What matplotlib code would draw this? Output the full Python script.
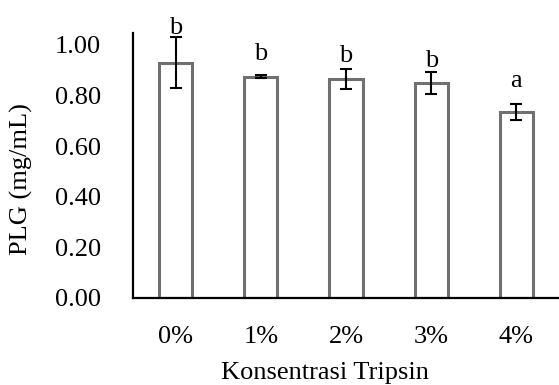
import numpy as np
import matplotlib.pyplot as plt

# data
categories = ['0%', '1%', '2%', '3%', '4%']
plg = [0.93, 0.875, 0.866, 0.85, 0.735]
err = [0.10, 0.005, 0.04, 0.043, 0.032]
letters = ['b', 'b', 'b', 'b', 'a']
letter_y = [1.045, 0.94, 0.932, 0.912, 0.835]  # baseline of the letter labels

plt.rcParams['font.family'] = ['Liberation Serif', 'DejaVu Serif']

fig = plt.figure(figsize=(5.59, 3.85), dpi=100)
ax = fig.add_axes([133 / 559, 1 - 298 / 385, 426 / 559, 265 / 385])

x = np.arange(len(categories))
ax.bar(x, plg, width=0.39, color='white', edgecolor='#707070', linewidth=2.2, zorder=2)
ax.errorbar(x, plg, yerr=err, fmt='none', ecolor='black', elinewidth=1.5,
            capsize=4, capthick=1.5, zorder=3)

for xi, ly, lab in zip(x, letter_y, letters):
    ax.text(xi, ly, lab, ha='center', va='baseline', fontsize=19, clip_on=False)

ax.set_xlim(-0.5, 4.5)
ax.set_ylim(0, 1.047)
ax.set_yticks(np.arange(0, 1.01, 0.2))
ax.set_yticklabels(['%.2f' % t for t in np.arange(0, 1.01, 0.2)])
ax.set_xticks(x)
ax.set_xticklabels(categories)
ax.tick_params(length=0, labelsize=19)
ax.tick_params(axis='x', pad=20)
ax.tick_params(axis='y', pad=23)

for s in ['top', 'right']:
    ax.spines[s].set_visible(False)
for s in ['left', 'bottom']:
    ax.spines[s].set_linewidth(1.6)

ax.set_xlabel('Konsentrasi Tripsin', fontsize=19)
ax.set_ylabel('PLG (mg/mL)', fontsize=19)
ax.xaxis.set_label_coords(0.45, -0.24)
ax.yaxis.set_label_coords(-0.235, 0.45)

plt.savefig('out.png', dpi=100)
